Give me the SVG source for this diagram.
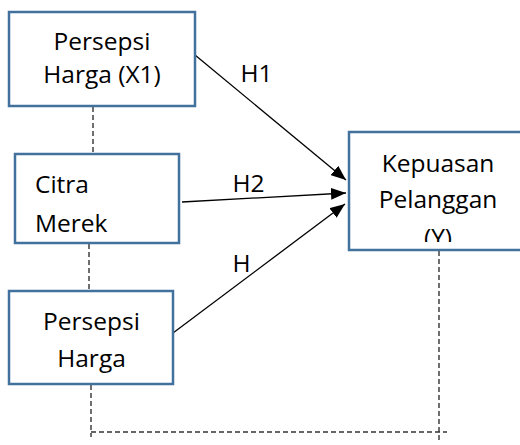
<svg xmlns="http://www.w3.org/2000/svg" width="520" height="445" viewBox="0 0 520 445">
<style>
.box{fill:#ffffff;stroke:#41719c;stroke-width:2.5}
.t{font-family:"Open Sans","Liberation Sans",sans-serif;font-size:24.5px;fill:#000000}
.c{text-anchor:middle}
.arrow{stroke:#000000;stroke-width:1.3;fill:none;marker-end:url(#ah)}
.dash{stroke:#333333;stroke-width:1.4;fill:none;stroke-dasharray:5,3}
</style>
<defs>
<marker id="ah" viewBox="0 0 15 12" refX="15" refY="6" markerWidth="15" markerHeight="12" markerUnits="userSpaceOnUse" orient="auto">
<path d="M0,0 L15,6 L0,12 z" fill="#000000"/>
</marker>
<clipPath id="clipY"><rect x="349" y="132" width="176" height="110"/></clipPath>
</defs>
<rect width="520" height="445" fill="#ffffff"/>
<g id="connectors">
<line class="arrow" x1="195" y1="55" x2="346" y2="180"/>
<line class="arrow" x1="182" y1="202" x2="346" y2="193"/>
<line class="arrow" x1="173" y1="333" x2="345" y2="204"/>
<line class="dash" x1="93" y1="107" x2="93" y2="154"/>
<line class="dash" x1="89" y1="244" x2="89" y2="291"/>
<polyline class="dash" points="91,385 91,437"/>
<line class="dash" x1="91" y1="432" x2="447" y2="432"/>
<line class="dash" x1="439" y1="251" x2="439" y2="442"/>
<text class="t" x="240.5" y="82">H1</text>
<text class="t" x="232.5" y="192">H2</text>
<text class="t" x="232.5" y="272">H</text>
</g>
<g id="persepsi-harga-x1">
<rect class="box" x="9" y="12" width="186" height="94"/>
<text class="t c" x="102" y="50">Persepsi</text>
<text class="t c" x="102" y="83">Harga (X1)</text>
</g>
<g id="citra-merek">
<rect class="box" x="15" y="154" width="164" height="89"/>
<text class="t" x="35" y="193">Citra</text>
<text class="t" x="35" y="232">Merek</text>
</g>
<g id="persepsi-harga">
<rect class="box" x="9" y="291" width="164" height="93"/>
<text class="t c" x="91.5" y="330">Persepsi</text>
<text class="t c" x="91.5" y="367">Harga</text>
</g>
<g id="kepuasan-pelanggan">
<rect class="box" x="349" y="132" width="176" height="118"/>
<text class="t c" x="438" y="172">Kepuasan</text>
<text class="t c" x="438" y="208">Pelanggan</text>
<text class="t c" x="438" y="246" clip-path="url(#clipY)">(Y)</text>
</g>
</svg>
